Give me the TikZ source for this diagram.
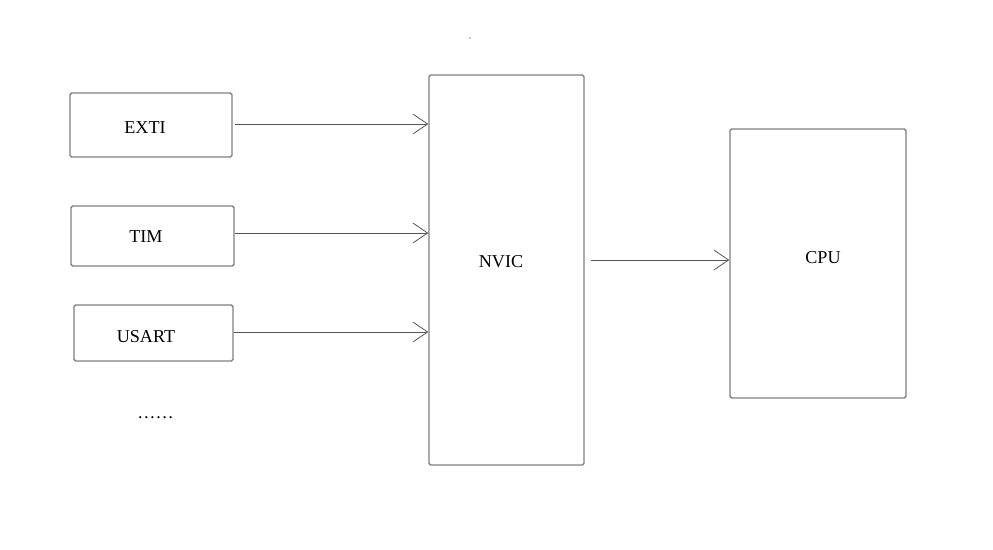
\documentclass[tikz,border=0pt]{standalone}
\usepackage{fontspec}
\setmainfont{Liberation Serif}
\usetikzlibrary{arrows.meta}
\definecolor{boxgray}{HTML}{7F7F7F}
\definecolor{arrgray}{HTML}{555555}
\tikzset{
  blk/.style={draw=boxgray, line width=1.1pt, rounded corners=1.2pt, inner sep=0pt},
  lbl/.style={font=\fontsize{13.6}{16}\selectfont},
  conn/.style={draw=arrgray, line width=0.6pt, -{Straight Barb[length=11pt,width=15pt,line width=0.6pt]}},
}
\begin{document}
\begin{tikzpicture}[x=0.75pt,y=-0.75pt]
\useasboundingbox (0,0) rectangle (993,550);
\node[blk, minimum width=162*0.75pt, minimum height=64*0.75pt] (exti) at (151,125) {};
\node[blk, minimum width=163*0.75pt, minimum height=60*0.75pt] (tim) at (152.5,236) {};
\node[blk, minimum width=159*0.75pt, minimum height=56*0.75pt] (usart) at (153.5,333) {};
\node[blk, minimum width=155*0.75pt, minimum height=390*0.75pt] (nvic) at (506.5,270) {};
\node[blk, minimum width=176*0.75pt, minimum height=269*0.75pt] (cpu) at (818,263.5) {};
\node[lbl] (lexti) at (145,127.5) {EXTI};
\node[lbl] (ltim) at (146,236.5) {TIM};
\node[lbl] (lusart) at (146,336.5) {USART};
\node[lbl] (lnvic) at (501,261.5) {NVIC};
\node[lbl] (lcpu) at (823,257.5) {CPU};
\node[lbl] (dots) at (155.5,418) {……};
\fill[black] (470,38) circle (0.6);
\coordinate (s1) at (235,124);
\coordinate (s2) at (235,233);
\coordinate (s3) at (234,332);
\coordinate (s4) at (591,260);
\draw[conn] (s1) -- (s1 -| nvic.west);
\draw[conn] (s2) -- (s2 -| nvic.west);
\draw[conn] (s3) -- (s3 -| nvic.west);
\draw[conn] (s4) -- (s4 -| cpu.west);
\end{tikzpicture}
\end{document}
